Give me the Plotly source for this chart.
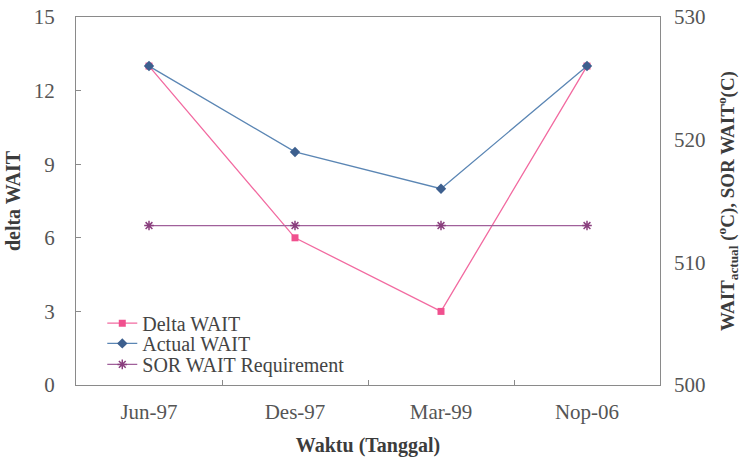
import plotly.graph_objects as go

# Measurement dates
waktu = ["Jun-97", "Des-97", "Mar-99", "Nop-06"]

# Delta WAIT (left axis)
delta_wait = [13, 6, 3, 13]

# Actual WAIT and SOR WAIT requirement in deg C (right axis)
actual_wait = [526, 519, 516, 526]
sor_wait = [513, 513, 513, 513]

SERIF = "Liberation Serif, Times New Roman, serif"
AXIS_GRAY = "#8a8a8a"
TEXT_GRAY = "#555555"
TITLE_COLOR = "#3c3c3c"
TICK_SIZE = 21
LEGEND_FONT = dict(family=SERIF, size=20, color="#444444")

fig = go.Figure()

fig.add_trace(go.Scatter(
    x=waktu, y=delta_wait, name="Delta WAIT", mode="lines+markers",
    line=dict(color="#f26aa0", width=1.3),
    marker=dict(symbol="square", size=7, color="#f0508e"),
    yaxis="y", legend="legend",
))
fig.add_trace(go.Scatter(
    x=waktu, y=actual_wait, name="Actual WAIT", mode="lines+markers",
    line=dict(color="#5b86b4", width=1.3),
    marker=dict(symbol="diamond", size=8, color="#3d5f8e"),
    yaxis="y2", legend="legend2",
))
fig.add_trace(go.Scatter(
    x=waktu, y=sor_wait, name="SOR WAIT Requirement", mode="lines+markers",
    line=dict(color="#a0609a", width=1.3),
    marker=dict(symbol="asterisk-open", size=8, color="#8a3f7e",
                line=dict(color="#8a3f7e", width=1.5)),
    yaxis="y2", legend="legend3",
))

# one legend box per series so the entries can sit tightly stacked
legend_common = dict(x=0.045, xanchor="left", yanchor="middle",
                     bgcolor="rgba(0,0,0,0)", borderwidth=0,
                     font=LEGEND_FONT, itemwidth=30)

fig.update_layout(
    width=741, height=459,
    margin=dict(l=76, r=81, t=17, b=74, autoexpand=False),
    paper_bgcolor="white",
    plot_bgcolor="white",
    font=dict(family=SERIF, size=TICK_SIZE, color=TEXT_GRAY),
    showlegend=True,
    legend=dict(y=0.168, **legend_common),
    legend2=dict(y=0.113, **legend_common),
    legend3=dict(y=0.056, **legend_common),
    xaxis=dict(
        type="category", range=[-0.5, 3.5], automargin=False,
        showline=True, linecolor=AXIS_GRAY, linewidth=1.2, mirror=True,
        ticks="inside", tickson="boundaries", ticklen=5, tickcolor=AXIS_GRAY,
        showgrid=False, zeroline=False,
        tickfont=dict(family=SERIF, size=TICK_SIZE, color=TEXT_GRAY),
        ticklabelstandoff=8,
        title=dict(text="<b>Waktu (Tanggal)</b>", standoff=14,
                   font=dict(family=SERIF, size=20, color=TITLE_COLOR)),
    ),
    yaxis=dict(
        range=[0, 15], dtick=3, automargin=False,
        showline=True, linecolor=AXIS_GRAY, linewidth=1.2, mirror=True,
        ticks="inside", ticklen=5, tickcolor=AXIS_GRAY,
        showgrid=False, zeroline=False,
        tickfont=dict(family=SERIF, size=TICK_SIZE, color=TEXT_GRAY),
        ticklabelstandoff=16,
        title=dict(text="<b>delta WAIT</b>", standoff=7,
                   font=dict(family=SERIF, size=20, color=TITLE_COLOR)),
    ),
    yaxis2=dict(
        range=[500, 530], dtick=10, automargin=False,
        overlaying="y", side="right",
        showline=False, ticks="", showgrid=False, zeroline=False,
        tickfont=dict(family=SERIF, size=TICK_SIZE, color=TEXT_GRAY),
        ticklabelstandoff=13,
        title=dict(text="<b>WAIT<sub>actual</sub> (<sup>o</sup>C), SOR WAIT<sup>o</sup>(C)</b>",
                   standoff=16,
                   font=dict(family=SERIF, size=19, color=TITLE_COLOR)),
    ),
)

fig.write_html("out.html")
